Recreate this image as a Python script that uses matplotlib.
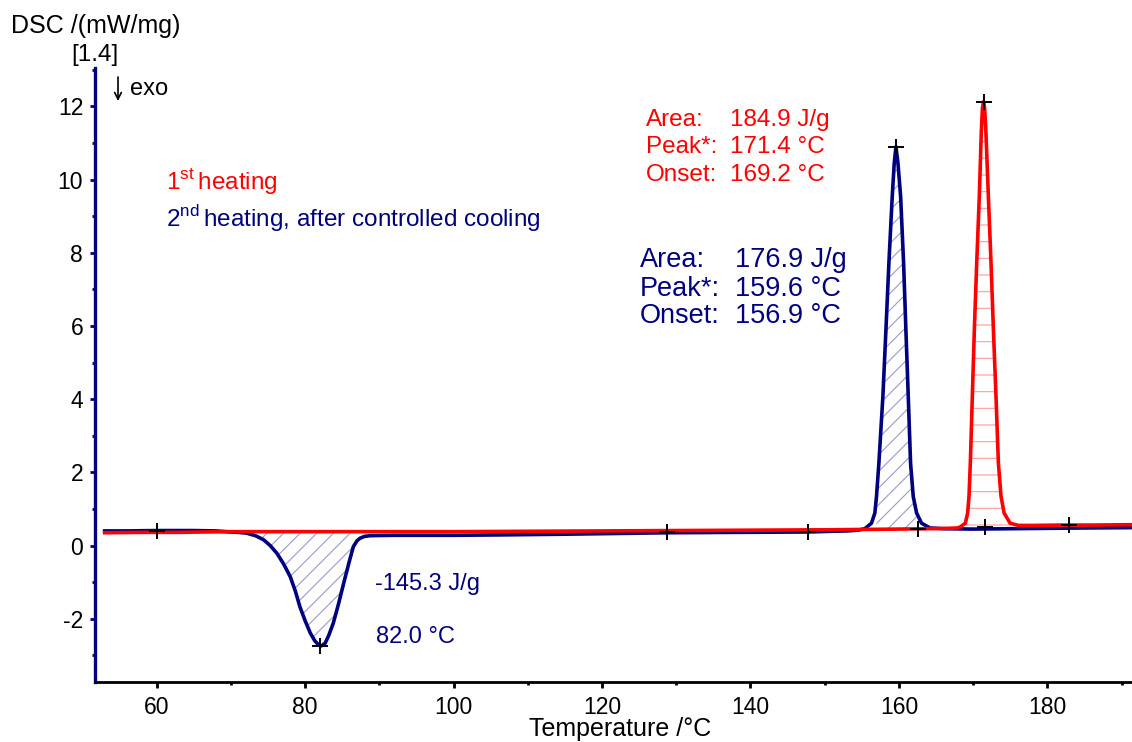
### DSC curves of 1st and 2nd heating, with integrated peak areas

import numpy as np
from matplotlib import pyplot as plt
from matplotlib.ticker import MultipleLocator

plt.rcParams['font.family'] = ['Liberation Sans', 'DejaVu Sans']
plt.rcParams['mathtext.fontset'] = 'custom'
plt.rcParams['mathtext.rm'] = 'Liberation Sans'
plt.rcParams['hatch.linewidth'] = 0.8
plt.rcParams['axes.unicode_minus'] = False

################################################################################
### Data
################################################################################

# 2nd heating, after controlled cooling (navy)
blue_T = [53.0, 56, 60, 65, 68, 70.0, 71.0, 72.1, 73.3, 74.4, 75.3, 76.2, 77.1,
          78.0, 78.7, 79.3, 80.0, 80.7, 81.3, 81.8, 82.2, 82.7, 83.2, 83.8, 84.5,
          85.2, 85.9, 86.5, 87.0, 87.4, 88.0, 88.8, 92, 96, 100, 106, 115, 122,
          129, 138, 147.6, 151, 153, 154.5, 155.4, 156.3, 156.76, 156.98, 157.3,
          157.84, 158.25, 158.65, 159.1, 159.37, 159.6, 159.87, 160.23, 160.63,
          160.94, 161.26, 161.57, 161.93, 162.38, 163.05, 164.2, 166, 170, 175,
          180, 185, 191.5]
blue_dsc = [0.40, 0.40, 0.41, 0.41, 0.40, 0.37, 0.36, 0.34, 0.27, 0.16, 0.00,
            -0.21, -0.50, -0.85, -1.25, -1.67, -2.05, -2.39, -2.60, -2.71, -2.74,
            -2.67, -2.45, -2.12, -1.60, -1.03, -0.48, -0.03, 0.13, 0.20, 0.25,
            0.27, 0.28, 0.28, 0.28, 0.29, 0.31, 0.33, 0.35, 0.36, 0.37, 0.39,
            0.40, 0.42, 0.46, 0.61, 0.89, 1.34, 2.25, 4.07, 5.89, 7.72, 9.54,
            10.45, 10.9, 10.45, 9.54, 7.72, 5.89, 4.07, 2.25, 1.34, 0.89, 0.61,
            0.48, 0.46, 0.45, 0.46, 0.47, 0.48, 0.49]

# 1st heating (red)
red_T = [53, 58, 63, 66, 70, 80, 90, 100, 110, 120, 130, 140, 150, 160, 164,
         166.5, 167.8, 168.2, 168.95, 169.26, 169.44, 169.62, 169.89, 170.16,
         170.48, 170.83, 171.1, 171.25, 171.4, 171.55, 171.72, 172.05, 172.41,
         172.73, 173.08, 173.4, 173.76, 174.17, 174.98, 176.1, 178, 182, 186, 191.5]
red_dsc = [0.35, 0.36, 0.36, 0.37, 0.38, 0.38, 0.38, 0.38, 0.39, 0.40, 0.41,
           0.42, 0.43, 0.45, 0.46, 0.47, 0.48, 0.50, 0.61, 0.89, 1.34, 2.25,
           4.07, 5.89, 7.72, 9.54, 11.3, 11.95, 12.13, 11.95, 11.3, 9.54, 7.72,
           5.89, 4.07, 2.25, 1.34, 0.89, 0.61, 0.55, 0.55, 0.56, 0.56, 0.57]

# integration limits and baselines (start, end)
trough_lim, trough_base = [70.0, 88.5], [0.37, 0.33]
bpeak_lim, bpeak_base = [156.9, 162.6], [0.45, 0.46]
rpeak_lim, rpeak_base = [168.9, 175.5], [0.50, 0.55]

# evaluation crosses
cross_T = [60.0, 82.0, 128.8, 147.7, 159.6, 162.6, 171.4, 171.6, 182.9]
cross_dsc = [0.40, -2.75, 0.36, 0.38, 10.9, 0.45, 12.13, 0.50, 0.56]

red_labels = ['Area:', 'Peak*:', 'Onset:']
red_values = ['184.9 J/g', '171.4 \u00b0C', '169.2 \u00b0C']
blue_labels = ['Area:', 'Peak*:', 'Onset:']
blue_values = ['176.9 J/g', '159.6 \u00b0C', '156.9 \u00b0C']

NAVY = '#00007f'
RED = '#ff0000'

W, H = 1132, 742
def px(x, y):
    return x / W, 1 - y / H

################################################################################
### Plotting
################################################################################

fig = plt.figure(figsize=(W / 100, H / 100), dpi=100)
ax = fig.add_axes([95 / W, 1 - 681.7 / H, 1 - 95 / W, (681.7 - 68.3) / H])

bT, bD = np.array(blue_T), np.array(blue_dsc)
rT, rD = np.array(red_T), np.array(red_dsc)

def hatch_area(T, D, lim, base, hatch, color):
    m = (T >= lim[0]) & (T <= lim[1])
    b = np.interp(T[m], lim, base)
    ax.fill_between(T[m], D[m], b, facecolor='none', edgecolor=color,
                    hatch=hatch, linewidth=0)

hatch_area(bT, bD, trough_lim, trough_base, '//', '#9a9ad0')
hatch_area(bT, bD, bpeak_lim, bpeak_base, '//', '#9a9ad0')
hatch_area(rT, rD, rpeak_lim, rpeak_base, '-', '#ff9a9a')

ax.plot(blue_T, blue_dsc, color=NAVY, lw=2.6, solid_joinstyle='round')
ax.plot(red_T, red_dsc, color=RED, lw=2.6, solid_joinstyle='round')
ax.plot(cross_T, cross_dsc, '+', color='black', ms=12, mew=1.4)

ax.set_xlim(51.7, 191.4)
ax.set_ylim(-3.72, 13.04)

ax.spines['top'].set_visible(False)
ax.spines['right'].set_visible(False)
ax.spines['left'].set_color(NAVY)
ax.spines['left'].set_linewidth(2.4)
ax.spines['bottom'].set_color('black')
ax.spines['bottom'].set_linewidth(2.0)

ax.xaxis.set_major_locator(MultipleLocator(20))
ax.xaxis.set_minor_locator(MultipleLocator(10))
ax.yaxis.set_major_locator(MultipleLocator(2))
ax.yaxis.set_minor_locator(MultipleLocator(1))
ax.tick_params(axis='x', which='major', direction='out', length=4, width=2,
               color='black', labelsize=16.5, pad=6)
ax.tick_params(axis='x', which='minor', direction='out', length=2, width=2,
               color='black')
ax.tick_params(axis='y', which='major', direction='out', length=3.5, width=2,
               color=NAVY, labelsize=16.5, pad=5)
ax.tick_params(axis='y', which='minor', direction='out', length=2.5, width=2,
               color=NAVY)

fig.text(*px(620, 736), 'Temperature /\u00b0C', fontsize=18, ha='center',
         va='baseline')
fig.text(*px(11, 33), 'DSC /(mW/mg)', fontsize=18, va='baseline')
fig.text(*px(71, 61), '[1.4]', fontsize=17.5, va='baseline')

# exo direction arrow
ax.annotate('', xy=px(118, 101), xytext=px(118, 77), xycoords='figure fraction',
            arrowprops=dict(arrowstyle='->', color='black', lw=1.2,
                            mutation_scale=12, shrinkA=0, shrinkB=0))
fig.text(*px(130, 95), 'exo', fontsize=17, va='baseline')

# legend texts
fig.text(*px(166, 189), r'1$^{\mathrm{st}}\,$heating', fontsize=17.5, color=RED,
         va='baseline')
fig.text(*px(166, 227), r'2$^{\mathrm{nd}}\,$heating, after controlled cooling',
         fontsize=17.5, color=NAVY, va='baseline')

# peak evaluations
for i, yb in enumerate([126, 153.3, 180.7]):
    fig.text(*px(646, yb), red_labels[i], fontsize=17.5, color=RED, va='baseline')
    fig.text(*px(730, yb), red_values[i], fontsize=17.5, color=RED, va='baseline')
for i, yb in enumerate([267, 295.7, 323.3]):
    fig.text(*px(640, yb), blue_labels[i], fontsize=19.5, color=NAVY, va='baseline')
    fig.text(*px(735, yb), blue_values[i], fontsize=19.5, color=NAVY, va='baseline')

fig.text(*px(375, 590), '-145.3 J/g', fontsize=17, color=NAVY, va='baseline')
fig.text(*px(376, 643), '82.0 \u00b0C', fontsize=17, color=NAVY, va='baseline')

fig.savefig('out.png', dpi=100)
